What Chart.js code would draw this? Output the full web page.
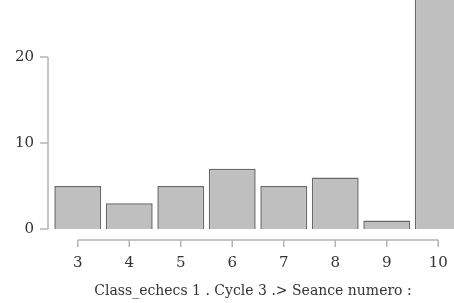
<!DOCTYPE html>
<html lang="fr">
<head>
    <meta charset="UTF-8">
    <title>Class_echecs 1 - Cycle 3</title>
    <script src="https://cdn.jsdelivr.net/npm/chart.js"></script>
    <style>
        html, body {
            margin: 0;
            padding: 0;
            background: white;
            overflow: hidden;
        }
        #chart {
            display: block;
        }
    </style>
</head>
<body>
    <canvas id="chart" width="454" height="303"></canvas>
    <script>
        // data (last bar goes off the top of the frame)
        const seances = [3, 4, 5, 6, 7, 8, 9, 10];
        const counts = [5, 3, 5, 7, 5, 6, 1, 27];
        const yTicks = [0, 10, 20];
        const xTitle = 'Class_echecs 1 . Cycle 3 .> Seance numero :';

        const axisColor = '#b4b4b4';
        const textColor = '#333333';
        const serif = 'DejaVu Serif, Liberation Serif, serif';

        // R style axes: lines only between first and last tick, offset from the bars
        const rAxes = {
            id: 'rAxes',
            afterDraw(chart) {
                const ctx = chart.ctx;
                const x = chart.scales.x, y = chart.scales.y;
                const area = chart.chartArea;
                ctx.save();
                ctx.strokeStyle = axisColor;
                ctx.lineWidth = 1.5;

                // y axis
                const ax = area.left - 4;
                ctx.beginPath();
                ctx.moveTo(ax, y.getPixelForValue(yTicks[0]));
                ctx.lineTo(ax, y.getPixelForValue(yTicks[yTicks.length - 1]));
                yTicks.forEach(v => {
                    const py = y.getPixelForValue(v);
                    ctx.moveTo(ax, py);
                    ctx.lineTo(ax - 8, py);
                });
                ctx.stroke();

                // x axis
                const ay = area.bottom;
                ctx.beginPath();
                ctx.moveTo(x.getPixelForValue(seances[0]), ay);
                ctx.lineTo(x.getPixelForValue(seances[seances.length - 1]), ay);
                seances.forEach(v => {
                    const px = x.getPixelForValue(v);
                    ctx.moveTo(px, ay);
                    ctx.lineTo(px, ay + 7);
                });
                ctx.stroke();
                ctx.restore();
            }
        };

        new Chart(document.getElementById('chart'), {
            type: 'bar',
            data: {
                labels: seances,
                datasets: [{
                    data: counts,
                    backgroundColor: '#bfbfbf',
                    borderColor: '#686868',
                    borderWidth: 1.5,
                    categoryPercentage: 1,
                    barPercentage: 0.91
                }]
            },
            options: {
                responsive: false,
                animation: false,
                layout: { padding: 0 },
                plugins: {
                    legend: { display: false },
                    tooltip: { enabled: false }
                },
                scales: {
                    x: {
                        type: 'linear',
                        offset: false,
                        min: 2.5,
                        max: 10.306,
                        grid: { display: false },
                        border: { display: false },
                        afterBuildTicks: s => { s.ticks = seances.map(v => ({ value: v })); },
                        afterFit: s => {
                            s.height = 63;
                            s.paddingLeft = 0;
                            s.paddingRight = 0;
                        },
                        ticks: {
                            padding: 6,
                            color: textColor,
                            font: { family: serif, size: 15 },
                            maxRotation: 0
                        },
                        title: {
                            display: true,
                            text: xTitle,
                            color: textColor,
                            font: { family: serif, size: 14 },
                            padding: { top: 0, bottom: 3 }
                        }
                    },
                    y: {
                        min: -1.279,
                        max: 26.628,
                        grid: { display: false },
                        border: { display: false },
                        afterBuildTicks: s => { s.ticks = yTicks.map(v => ({ value: v })); },
                        afterFit: s => {
                            s.width = 52;
                            s.paddingTop = 0;
                            s.paddingBottom = 0;
                        },
                        ticks: {
                            padding: 10,
                            color: textColor,
                            font: { family: serif, size: 15 }
                        }
                    }
                }
            },
            plugins: [rAxes]
        });
    </script>
</body>
</html>
